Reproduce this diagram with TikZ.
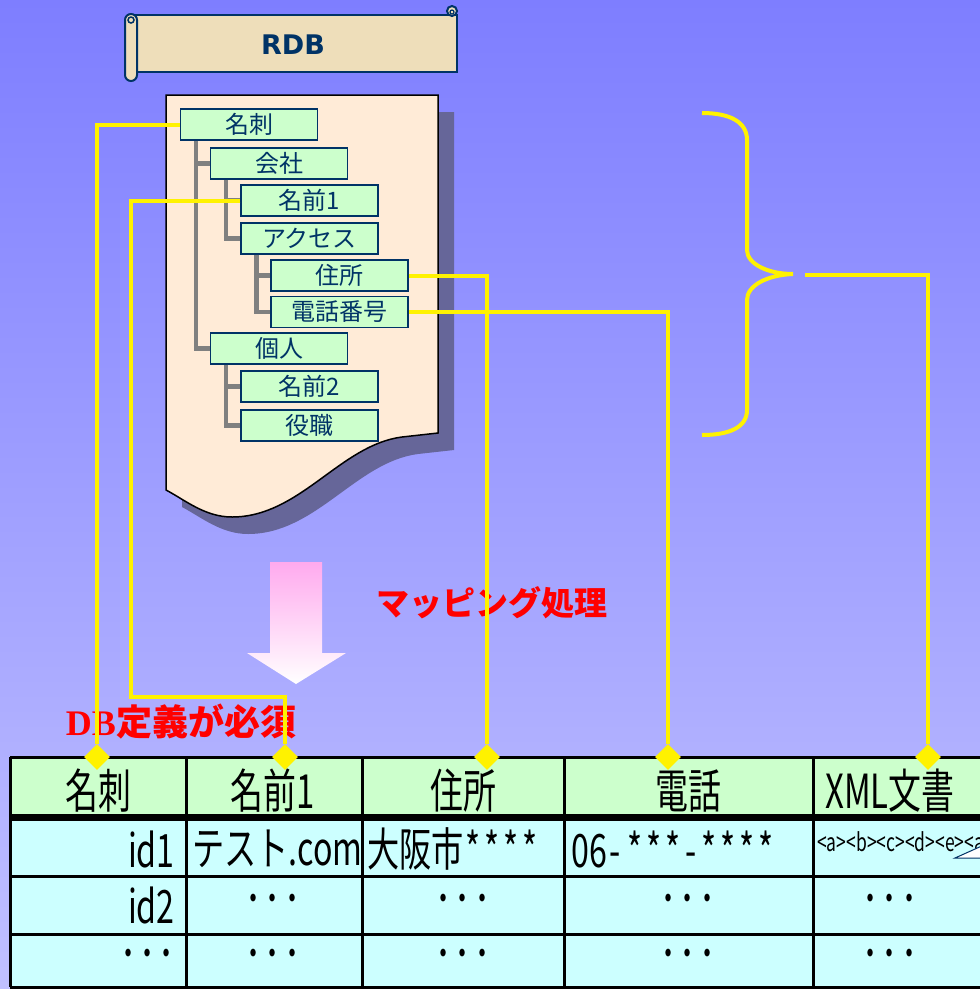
\documentclass[tikz,border=0pt]{standalone}
\usepackage{fontspec}
\setmainfont{Noto Sans CJK JP}
\newfontfamily\tblfont{Noto Sans CJK JP}[FakeStretch=0.7]
\newfontfamily\rdbfont{DejaVu Sans}
\newfontfamily\dbfont{Liberation Serif}
\usetikzlibrary{shapes.geometric,positioning}

\definecolor{bgtop}{RGB}{126,126,255}
\definecolor{bgbot}{RGB}{192,192,255}
\definecolor{navy}{RGB}{0,51,102}
\definecolor{parch}{RGB}{238,222,186}
\definecolor{paper}{RGB}{255,235,215}
\definecolor{shadowc}{RGB}{102,102,153}
\definecolor{leaf}{RGB}{204,255,204}
\definecolor{cellc}{RGB}{204,255,255}
\definecolor{branchc}{RGB}{128,128,128}
\definecolor{pinkt}{RGB}{255,170,238}

\newcommand\stars[1]{\foreach \k in {1,...,#1}{*\kern4pt}}
\newcommand\dotsj{･\kern3pt･\kern3pt･}

\tikzset{
  field/.style={draw=navy, line width=1.5pt, fill=leaf, text=navy, minimum width=137, minimum height=31, inner sep=0pt, font=\fontsize{24}{24}\selectfont},
  branch/.style={draw=branchc, line width=4.5pt},
  link/.style={draw=yellow, line width=4pt},
  pin/.style={diamond, fill=yellow, minimum size=26, inner sep=0pt},
  grid/.style={draw=black, line width=3pt},
  head/.style={font=\tblfont\fontsize{47}{47}\selectfont, inner sep=0pt},
  cell/.style={font=\tblfont\fontsize{46}{46}\selectfont, inner sep=0pt},
  scroll/.style={fill=parch, draw=navy, line width=2pt},
}

\begin{document}
\begin{tikzpicture}[x=1pt,y=-1pt]
    \useasboundingbox (0,0) rectangle (980,989);
    \clip (0,0) rectangle (980,989);
    \shade[top color=bgtop, bottom color=bgbot] (0,0) rectangle (980,989);

    \filldraw[scroll] (133,15) rectangle (457,72);
    \filldraw[scroll, rounded corners=6] (125,14) rectangle (137,81);
    \draw[navy, line width=1.5pt] (131,20) circle (3);
    \filldraw[scroll] (452,11) circle (5);
    \draw[navy, line width=1.2pt] (452,12) circle (2);
    \node[font=\rdbfont\bfseries\fontsize{27}{27}\selectfont, text=navy] (rdb) at (293,45) {RDB};

    \begin{scope}[shift={(16,17)}]
      \fill[shadowc] (166,95) -- (438,95) -- (438,433) -- (402,437) .. controls (340,445) and (300,517) .. (232,517) .. controls (205,517) and (185,500) .. (166,490) -- cycle;
    \end{scope}
    \filldraw[fill=paper, draw=black, line width=1.5pt] (166,95) -- (438,95) -- (438,433) -- (402,437) .. controls (340,445) and (300,517) .. (232,517) .. controls (205,517) and (185,500) .. (166,490) -- cycle;

    \node[field] (meishi) at (249,124.5) {名刺};
    \node[field] (kaisha) at (279,163.5) {会社};
    \node[field] (namae1) at (309.5,200.5) {名前1};
    \node[field] (access) at (309.5,238.5) {アクセス};
    \node[field] (jusho) at (339.5,275.5) {住所};
    \node[field] (denwa) at (339.5,312) {電話番号};
    \node[field] (kojin) at (279,348.5) {個人};
    \node[field] (namae2) at (309.5,386.5) {名前2};
    \node[field] (yakushoku) at (309.5,425.5) {役職};

    \draw[branch] (meishi.south west) ++(16,0) |- (kojin.west);
    \draw[branch] (meishi.south west) ++(16,0) |- (kaisha.west);
    \draw[branch] (kaisha.south west) ++(16,0) |- (access.west);
    \draw[branch] (kaisha.south west) ++(16,0) |- (namae1.west);
    \draw[branch] (access.south west) ++(16,0) |- (denwa.west);
    \draw[branch] (access.south west) ++(16,0) |- (jusho.west);
    \draw[branch] (kojin.south west) ++(16,0) |- (yakushoku.west);
    \draw[branch] (kojin.south west) ++(16,0) |- (namae2.west);

    \shade[top color=pinkt, bottom color=white] (270,562) -- (322,562) -- (322,653) -- (346,653) -- (296,684) -- (247,653) -- (270,653) -- cycle;

    \node[font=\bfseries\fontsize{33}{33}\selectfont, text=red] (mapping) at (492,603) {マッピング処理};
    \node[font=\bfseries\fontsize{36}{36}\selectfont, text=red] (dbdef) at (181,722) {{\dbfont\bfseries DB}定義が必須};

    \fill[leaf] (10,757) rectangle (985,815);
    \fill[cellc] (10,815) rectangle (985,987);
    \draw[grid] (10,757) -- (985,757);
    \draw[line width=7pt] (10,817) -- (985,817);
    \draw[grid] (10,876) -- (985,876);
    \draw[grid] (10,934) -- (985,934);
    \draw[grid] (10,987) -- (985,987);
    \draw[grid] (10,757) -- (10,987);
    \draw[grid] (186,757) -- (186,987);
    \draw[grid] (362,757) -- (362,987);
    \draw[grid] (564,757) -- (564,987);
    \draw[grid] (813,757) -- (813,987);

    \node[head] (h1) at (98,791) {名刺};
    \node[head] (h2) at (273,791) {名前1};
    \node[head] (h3) at (463,791) {住所};
    \node[head] (h4) at (688,791) {電話};
    \node[head] (h5) at (890,791) {XML文書};

    \node[cell, anchor=east] (c11) at (175,849) {id1};
    \node[cell, anchor=west] (c12) at (192,849) {テスト.com};
    \node[cell, anchor=west] (c13) at (367,849) {大阪市\kern2pt\stars{4}};
    \node[cell, anchor=west] (c14) at (571,849) {06\kern3pt-\kern6pt\stars{3}\kern1pt-\kern5pt\stars{4}};
    \node[font=\tblfont\fontsize{25}{25}\selectfont, inner sep=0pt, anchor=west] (c15) at (817,842) {<a><b><c><d><e><a};
    \filldraw[draw=navy, fill=white, line width=1pt] (955,858) -- (984,845) -- (984,858) -- cycle;

    \node[cell, anchor=east] (c21) at (175,905) {id2};
    \node[cell] (c22) at (273,905) {\dotsj};
    \node[cell] (c23) at (463,905) {\dotsj};
    \node[cell] (c24) at (688,905) {\dotsj};
    \node[cell] (c25) at (890,905) {\dotsj};

    \node[cell, anchor=east] (c31) at (175,960) {\dotsj};
    \node[cell] (c32) at (273,960) {\dotsj};
    \node[cell] (c33) at (463,960) {\dotsj};
    \node[cell] (c34) at (688,960) {\dotsj};
    \node[cell] (c35) at (890,960) {\dotsj};

    \node[pin] (d1) at (97,757) {};
    \node[pin] (d2) at (285,757) {};
    \node[pin] (d3) at (487,757) {};
    \node[pin] (d4) at (668,757) {};
    \node[pin] (d5) at (928,757) {};

    \coordinate (bendA) at (131,697);
    \coordinate (braceR) at (805,275);
    \draw[link] (meishi.west) -| (d1.north);
    \draw[link] (namae1.west) -| (bendA) -| (d2.north);
    \draw[link] (jusho.east) -| (d3.north);
    \draw[link] (denwa.east) -| (d4.north);
    \draw[link] (braceR) -| (d5.north);
    \draw[link] (702,113) .. controls (730,113) and (747,122) .. (747,140) -- (747,250) .. controls (747,264) and (768,274) .. (793,274) .. controls (768,275) and (747,285) .. (747,300) -- (747,410) .. controls (747,427) and (730,435) .. (702,435);
\end{tikzpicture}
\end{document}
